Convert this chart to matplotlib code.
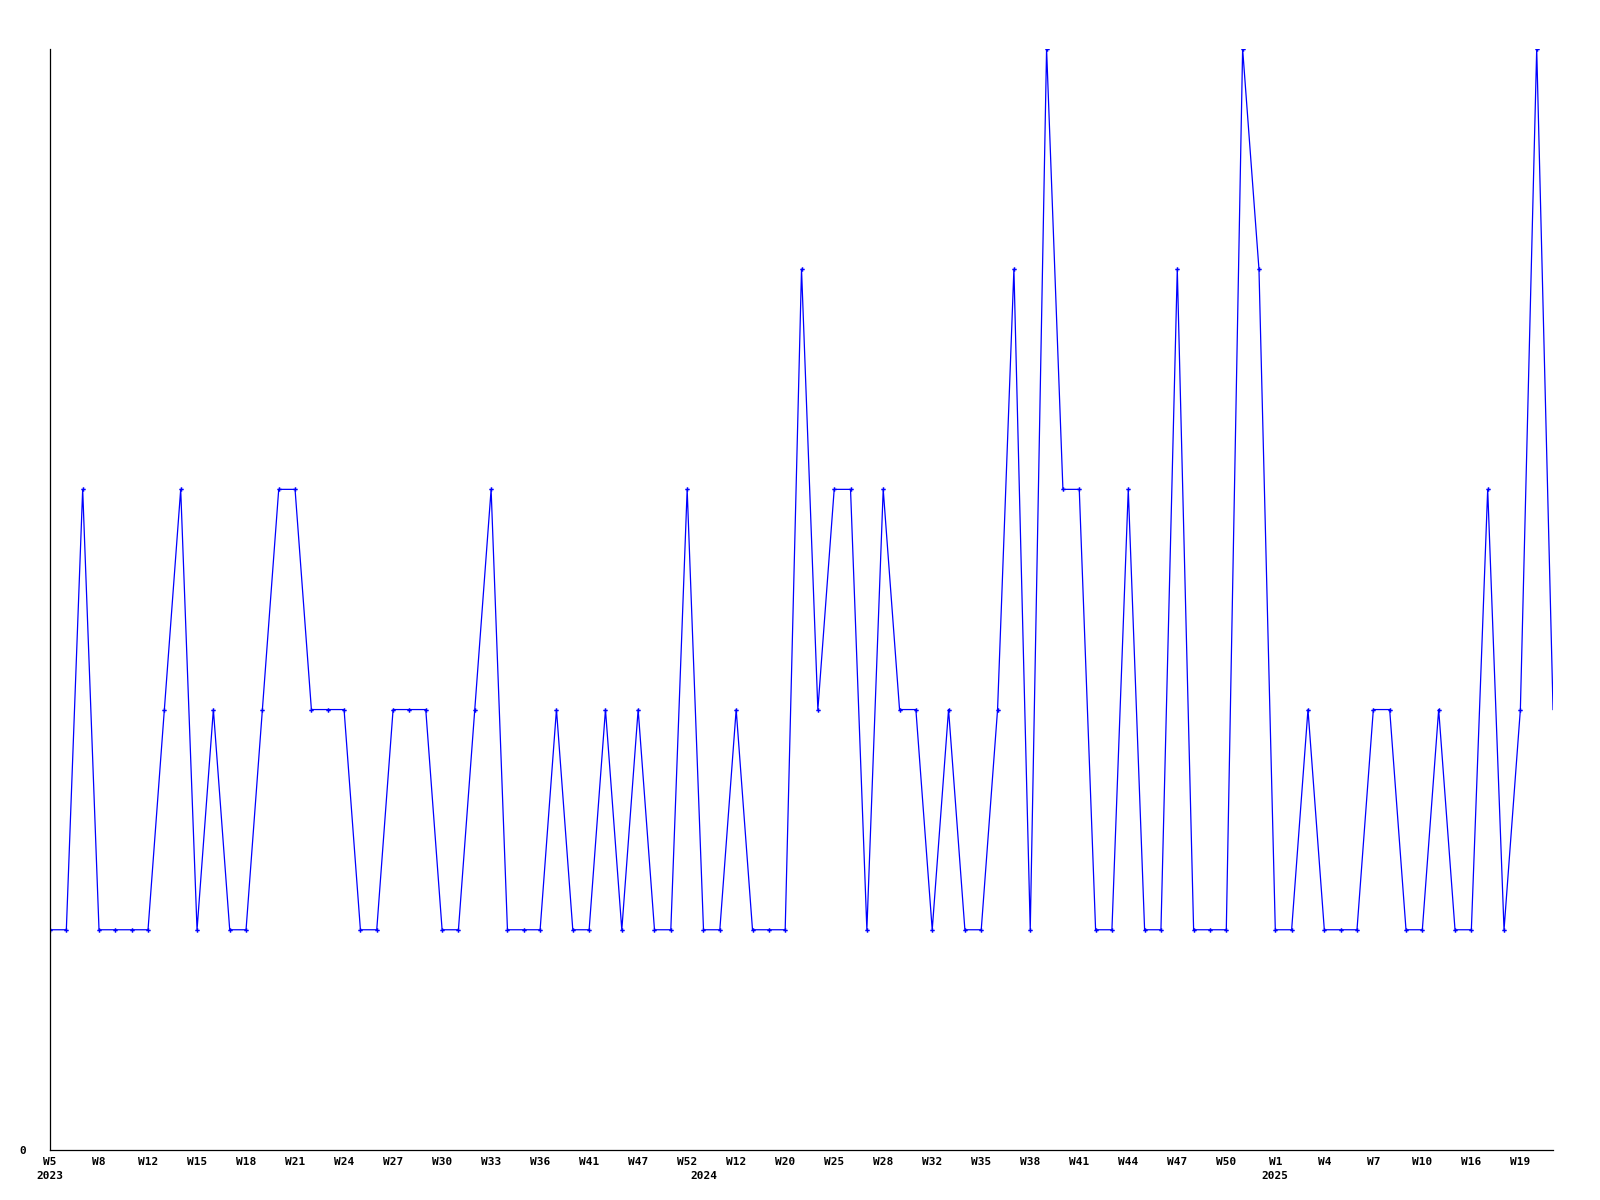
import numpy as np
import matplotlib
matplotlib.use('Agg')
import matplotlib.pyplot as plt
import matplotlib.transforms as mtransforms

# weekly counts, one point per week that has data
values = [1, 1, 3, 1, 1, 1, 1, 2, 3, 1, 2, 1, 1, 2, 3, 3, 2, 2, 2, 1,
          1, 2, 2, 2, 1, 1, 2, 3, 1, 1, 1, 2, 1, 1, 2, 1, 2, 1, 1, 3,
          1, 1, 2, 1, 1, 1, 4, 2, 3, 3, 1, 3, 2, 2, 1, 2, 1, 1, 2, 4,
          1, 5, 3, 3, 1, 1, 3, 1, 1, 4, 1, 1, 1, 5, 4, 1, 1, 2, 1, 1,
          1, 2, 2, 1, 1, 2, 1, 1, 3, 1, 2, 5, 2]

week_labels = ['W5', 'W8', 'W12', 'W15', 'W18', 'W21', 'W24', 'W27', 'W30', 'W33',
               'W36', 'W41', 'W47', 'W52', 'W12', 'W20', 'W25', 'W28', 'W32', 'W35',
               'W38', 'W41', 'W44', 'W47', 'W50', 'W1', 'W4', 'W7', 'W10', 'W16', 'W19']
label_step = 3

years = ['2023', '2024', '2025']
year_pos = [0, 40, 75]

x = np.arange(len(values))
font = {'family': 'DejaVu Sans Mono', 'weight': 'bold', 'size': 8}

fig = plt.figure(figsize=(16, 12), dpi=100)
ax = fig.add_axes([0.03125, 0.0417, 0.9394, 0.9175])

ax.plot(x, values, color='#0000ff', linewidth=0.9)
ax.plot(x[:-1], values[:-1], linestyle='none', marker='P', markersize=3.2,
        color='#0000ff', markeredgewidth=0)

ax.set_xlim(0, len(values) - 1)
ax.set_ylim(0, max(values))

for side in ['top', 'right']:
    ax.spines[side].set_visible(False)
for side in ['left', 'bottom']:
    ax.spines[side].set_linewidth(0.9)
    ax.spines[side].set_color('black')

ax.set_yticks([0])
ax.set_yticklabels(['0'], fontdict=font)
ax.tick_params(axis='y', length=0, pad=17)

ax.set_xticks(x[::label_step])
ax.set_xticklabels(week_labels, fontdict=font)
ax.tick_params(axis='x', length=0, pad=5)

trans = mtransforms.blended_transform_factory(ax.transData, ax.transAxes)
offset = mtransforms.ScaledTranslation(0, -15.5 / 72, fig.dpi_scale_trans)
for yr, pos in zip(years, year_pos):
    ax.text(pos, 0, yr, transform=trans + offset, ha='center', va='top', **font)

fig.savefig('out.png', dpi=100)
